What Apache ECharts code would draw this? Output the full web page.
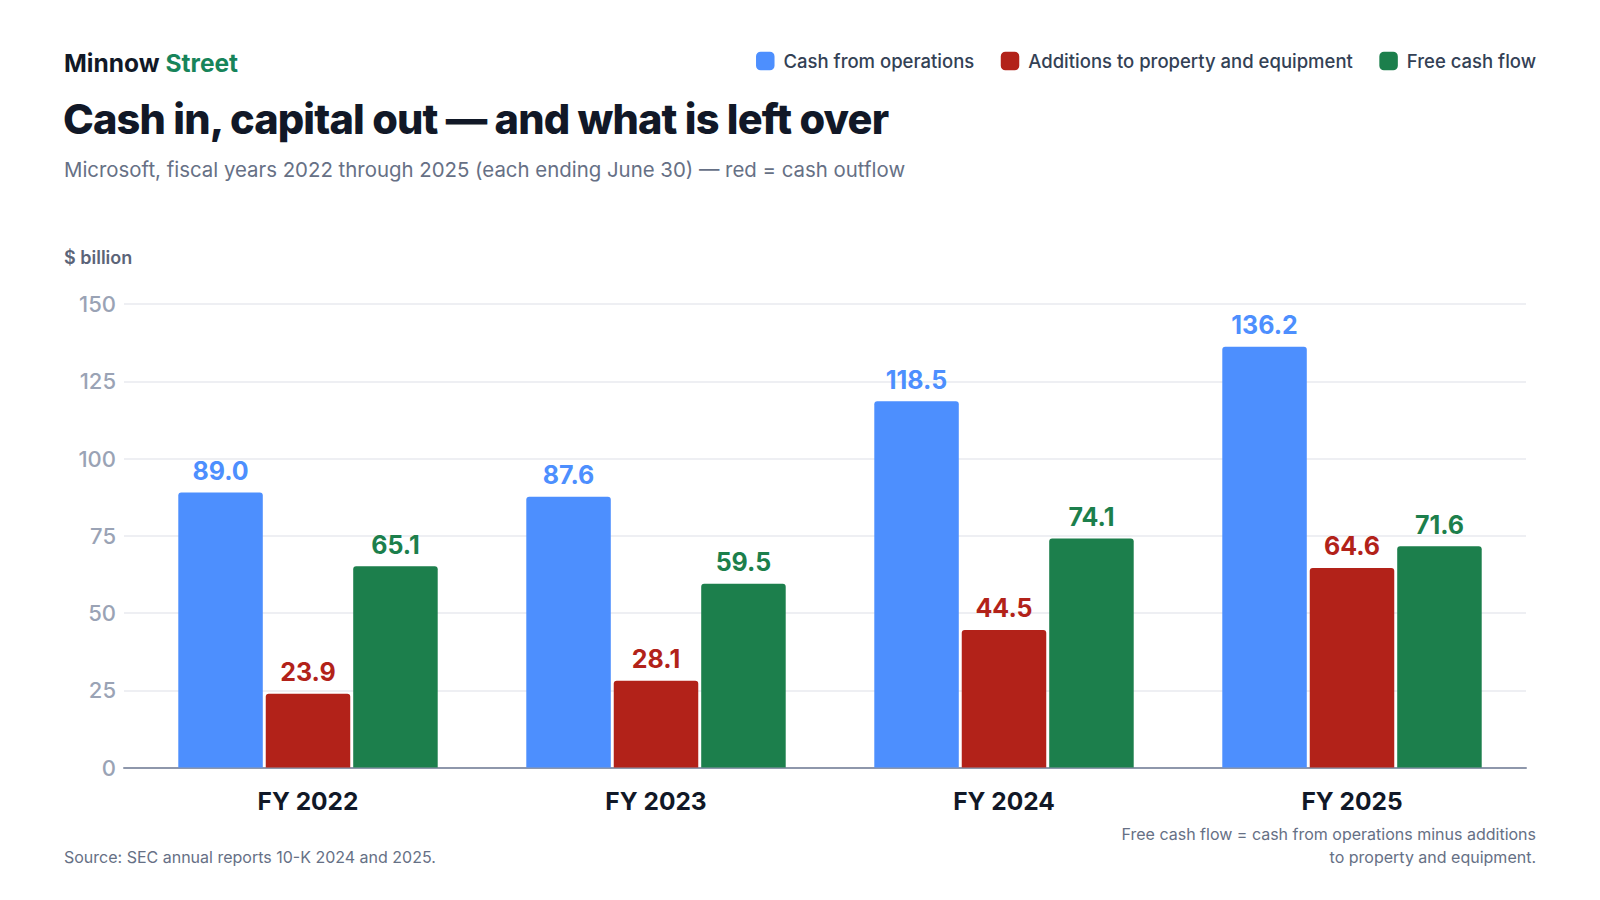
<!DOCTYPE html>
<html><head><meta charset="utf-8">
<script src="https://cdn.jsdelivr.net/npm/echarts@6/dist/echarts.min.js"></script>
<style>html,body{margin:0;padding:0;background:#fff}#c{width:1600px;height:900px}</style>
</head><body><div id="c"></div>
<script>
const categories = ['FY 2022', 'FY 2023', 'FY 2024', 'FY 2025'];
const cashFromOps = [89.0, 87.6, 118.5, 136.2];
const capex = [23.9, 28.1, 44.5, 64.6];
const freeCashFlow = [65.1, 59.5, 74.1, 71.6];
const seriesNames = ['Cash from operations', 'Additions to property and equipment', 'Free cash flow'];
const yTicks = { min: 0, max: 150, interval: 25 };
const titleText = 'Cash in, capital out — and what is left over';

const colors = ['#4d8ffe', '#b22219', '#1c7f4c'];
const F = 'Inter, "Noto Sans", sans-serif';
const chart = echarts.init(document.getElementById('c'), null, { renderer: 'svg' });
function bar(name, data, color) {
  return {
    name, type: 'bar', data, barWidth: 84.5, barGap: '3.5%', xAxisIndex: 1, yAxisIndex: 1,
    itemStyle: { color, borderRadius: [3, 3, 0, 0] },
    label: { show: true, position: 'top', distance: 9, color, fontFamily: F, fontSize: 25, fontWeight: 700,
      formatter: p => p.value.toFixed(1) }
  };
}
const txt = (text, x, y, size, weight, fill, align) => ({
  type: 'text', x, y, silent: true,
  style: { text, fill, font: `${weight} ${size}px ${F}`, textAlign: align || 'left', textVerticalAlign: 'middle', lineHeight: 23.5 }
});
chart.setOption({
  animation: false,
  textStyle: { fontFamily: F },
  graphic: [
    { type: 'text', x: 64, y: 63, silent: true,
      style: { text: '{a|Minnow}{b|Street}', textVerticalAlign: 'middle',
        rich: { a: { fontFamily: F, fontSize: 24.5, fontWeight: 700, fill: '#111827', color: '#111827' },
                b: { fontFamily: F, fontSize: 24.5, fontWeight: 700, fill: '#17845a', color: '#17845a', padding: [0, 0, 0, 6] } } } },
    txt(titleText, 63, 118.5, 41.5, 800, '#111827'),
    txt('Microsoft, fiscal years 2022 through 2025 (each ending June 30) — red = cash outflow', 64, 169, 20.4, 400, '#667085'),
    txt('$ billion', 64, 257, 18, 600, '#5b6478'),
    txt('Source: SEC annual reports 10-K 2024 and 2025.', 64, 857, 16, 400, '#667085'),
    txt('Free cash flow = cash from operations minus additions\nto property and equipment.', 1536, 845.5, 16, 400, '#667085', 'right')
  ],
  legend: {
    right: 64, top: 51.5, padding: 0, itemWidth: 18.5, itemHeight: 18.5, itemGap: 26.5, icon: 'roundRect',
    textStyle: { fontFamily: F, fontSize: 18.5, color: '#334155', fontWeight: 500, padding: [0, 0, 0, 4] },
    data: seriesNames
  },
  grid: [
    { left: 124, right: 74, top: 304, bottom: 132.5 },
    { left: 134, right: 74, top: 304, bottom: 132.5 }
  ],
  xAxis: [
    { type: 'category', gridIndex: 0, data: categories,
      axisLine: { lineStyle: { color: '#8e97ab', width: 2 } },
      axisTick: { show: false }, axisLabel: { show: false }, splitLine: { show: false } },
    { type: 'category', gridIndex: 1, data: categories,
      axisLine: { show: false }, axisTick: { show: false },
      axisLabel: { fontFamily: F, fontSize: 24.5, fontWeight: 700, color: '#111827', margin: 21 } }
  ],
  yAxis: [
    { type: 'value', gridIndex: 0, min: yTicks.min, max: yTicks.max, interval: yTicks.interval,
      axisLine: { show: false }, axisTick: { show: false },
      splitLine: { lineStyle: { color: '#e8eaef', width: 1.5 } },
      axisLabel: { fontFamily: F, fontSize: 22, fontWeight: 500, color: '#9aa3b5', margin: 8 } },
    { type: 'value', gridIndex: 1, min: yTicks.min, max: yTicks.max, interval: yTicks.interval,
      axisLine: { show: false }, axisTick: { show: false }, splitLine: { show: false }, axisLabel: { show: false } }
  ],
  series: [
    bar(seriesNames[0], cashFromOps, colors[0]),
    bar(seriesNames[1], capex, colors[1]),
    bar(seriesNames[2], freeCashFlow, colors[2])
  ]
});
document.querySelectorAll('#c text').forEach(t => {
  if (t.textContent === titleText) t.style.letterSpacing = '-0.85px';
});
</script></body></html>
